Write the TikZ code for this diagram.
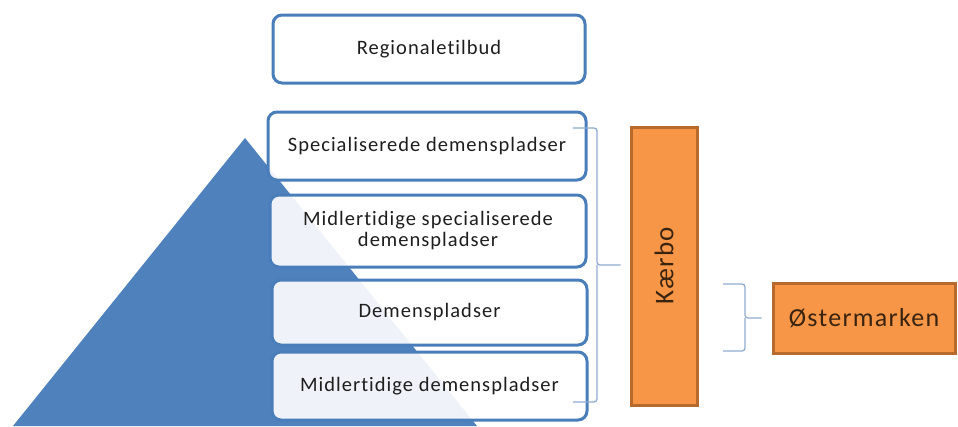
\documentclass[tikz,border=0pt]{standalone}
\usepackage{fontspec}
\setmainfont{Carlito}[LetterSpace=5, Ligatures={NoCommon}]
\definecolor{pyr}{HTML}{4F81BD}
\definecolor{boxline}{HTML}{4A7EBB}
\definecolor{orfill}{HTML}{F79646}
\definecolor{orline}{HTML}{B8692C}
\definecolor{brk}{HTML}{8FAAD3}
\definecolor{txt}{HTML}{1E1E1E}
\definecolor{ortxt}{HTML}{3A2410}
\tikzset{
  bluebox/.style={draw=boxline, line width=3pt, rounded corners=9pt, fill=white, fill opacity=0.91, text opacity=1,
    text=txt, align=center, inner sep=0pt, font=\fontsize{20.5}{21}\selectfont},
  orbox/.style={draw=orline, line width=3pt, fill=orfill, text=ortxt, inner sep=0pt, font=\fontsize{26}{28}\selectfont},
  bracket/.style={draw=brk, line width=1.3pt, rounded corners=3pt}
}
\begin{document}
\begin{tikzpicture}[x=1pt,y=-1pt]
\useasboundingbox (0,0) rectangle (958,426);
\begin{scope}
\clip (0,0) rectangle (958,426);
\fill[pyr] (245,138) -- (13,426) -- (477,426) -- cycle;
\end{scope}
\node[bluebox, minimum width=312pt, minimum height=68pt] (reg) at (429,49) {Regionaletilbud};
\node[bluebox, minimum width=318pt, minimum height=68pt] (spec) at (427,146) {Specialiserede demenspladser};
\node[bluebox, minimum width=316pt, minimum height=72pt] (mspec) at (428,231) {Midlertidige specialiserede\\demenspladser};
\node[bluebox, minimum width=315pt, minimum height=65pt] (dem) at (429.5,312.5) {Demenspladser};
\node[bluebox, minimum width=315pt, minimum height=68pt] (mdem) at (429.5,386) {Midlertidige demenspladser};
\node[orbox, minimum width=66pt, minimum height=278pt] (kaerbo) at (664,266) {};
\node[rotate=90, text=ortxt, font=\fontsize{27}{28}\selectfont] (kaerbotext) at (kaerbo.center) {Kærbo};
\node[orbox, minimum width=182pt, minimum height=70pt] (oster) at (864,318) {Østermarken};
% bracket 1
\coordinate (b1t) at (573,128);
\coordinate (b1m) at (597,265);
\coordinate (b1b) at (573,402);
\coordinate (b1tip) at ([xshift=-9pt]kaerbo.west |- b1m);
\draw[bracket] (b1t) -- (b1t -| b1m) -- (b1m) -- (b1tip);
\draw[bracket] (b1m) -- (b1b -| b1m) -- (b1b);
% bracket 2
\coordinate (b2t) at (723,284);
\coordinate (b2m) at (745,318);
\coordinate (b2b) at (723,351);
\coordinate (b2tip) at ([xshift=-10pt]oster.west);
\draw[bracket] (b2t) -- (b2t -| b2m) -- (b2m) -- (b2tip);
\draw[bracket] (b2m) -- (b2b -| b2m) -- (b2b);
\end{tikzpicture}
\end{document}
